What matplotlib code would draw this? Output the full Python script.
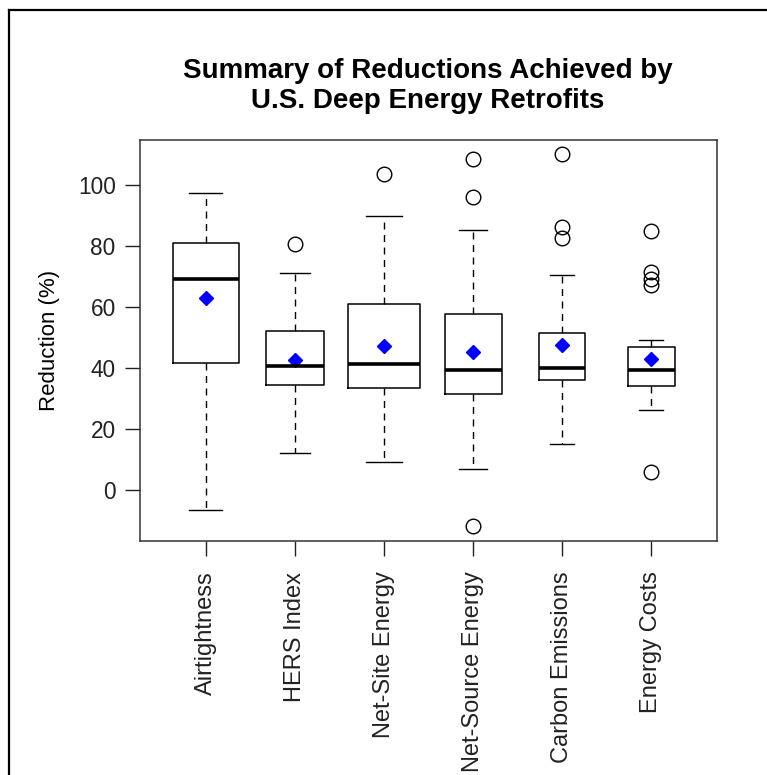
import numpy as np
import matplotlib
matplotlib.use("Agg")
import matplotlib.pyplot as plt
from matplotlib.lines import Line2D

plt.rcParams['font.family'] = ['Liberation Sans', 'DejaVu Sans']

# data
categories = ['Airtightness', 'HERS Index', 'Net-Site Energy',
              'Net-Source Energy', 'Carbon Emissions', 'Energy Costs']
whisker_low = [-6.7, 12.0, 9.1, 6.6, 14.8, 26.1]
q1 = [41.6, 34.2, 33.2, 31.5, 35.9, 33.9]
medians = [69.0, 40.6, 41.1, 39.4, 40.0, 39.4]
q3 = [81.0, 52.0, 61.1, 57.5, 51.3, 46.7]
whisker_high = [97.4, 71.1, 89.9, 85.2, 70.3, 49.1]
means = [62.8, 42.5, 47.1, 45.2, 47.4, 43.0]
outliers = [
    [],
    [80.7],
    [103.6],
    [108.6, 96.2, -12.0],
    [110.1, 86.3, 82.5],
    [85.0, 71.5, 69.3, 67.3, 5.8],
]
# variable box widths (R varwidth)
box_widths = [0.74, 0.66, 0.80, 0.64, 0.525, 0.53]

stats = []
for i, name in enumerate(categories):
    stats.append(dict(label=name, whislo=whisker_low[i], q1=q1[i], med=medians[i],
                      q3=q3[i], whishi=whisker_high[i], fliers=outliers[i]))

fig = plt.figure(figsize=(7.67, 7.75), dpi=100)
ax = fig.add_axes([140 / 767, 1 - 541 / 775, 577 / 767, 401 / 775])

pos = np.arange(1, len(categories) + 1)
ax.bxp(stats, positions=pos, widths=box_widths, showfliers=True,
       boxprops=dict(color='black', linewidth=1.1),
       medianprops=dict(color='black', linewidth=2.6, solid_capstyle='butt'),
       whiskerprops=dict(color='black', linewidth=1.0, linestyle=(0, (5, 4))),
       capprops=dict(color='black', linewidth=1.0),
       flierprops=dict(marker='o', markerfacecolor='none', markeredgecolor='black',
                       markersize=10.5, markeredgewidth=1.0))

# group means
ax.plot(pos, means, linestyle='none', marker='D', color='#0000ff', markersize=7)

ax.set_xlim(0.26, 6.74)
ax.set_ylim(-16.9, 114.8)
ax.set_yticks([0, 20, 40, 60, 80, 100])
ax.set_xticks(pos)
ax.set_xticklabels(categories, rotation=90, fontsize=17)
ax.tick_params(axis='y', labelsize=16.3, length=11, width=1, pad=6.5, colors='#222222')
ax.tick_params(axis='x', length=11, width=1, pad=11, colors='#222222')
ax.set_ylabel('Reduction (%)', fontsize=16, labelpad=13)
for s in ax.spines.values():
    s.set_linewidth(1.1)
    s.set_color('#333333')

fig.text(428 / 767, 1 - 86 / 775, 'Summary of Reductions Achieved by\nU.S. Deep Energy Retrofits',
         ha='center', va='center', fontsize=20, fontweight='bold', linespacing=1.2)

# outer frame (left and top edges only)
fig.add_artist(Line2D([8.5 / 767, 8.5 / 767], [0, 1 - 10 / 775], transform=fig.transFigure,
                      color='black', linewidth=1.6))
fig.add_artist(Line2D([8.5 / 767, 1], [1 - 10 / 775, 1 - 10 / 775], transform=fig.transFigure,
                      color='black', linewidth=1.6))

fig.savefig('out.png', dpi=100)
